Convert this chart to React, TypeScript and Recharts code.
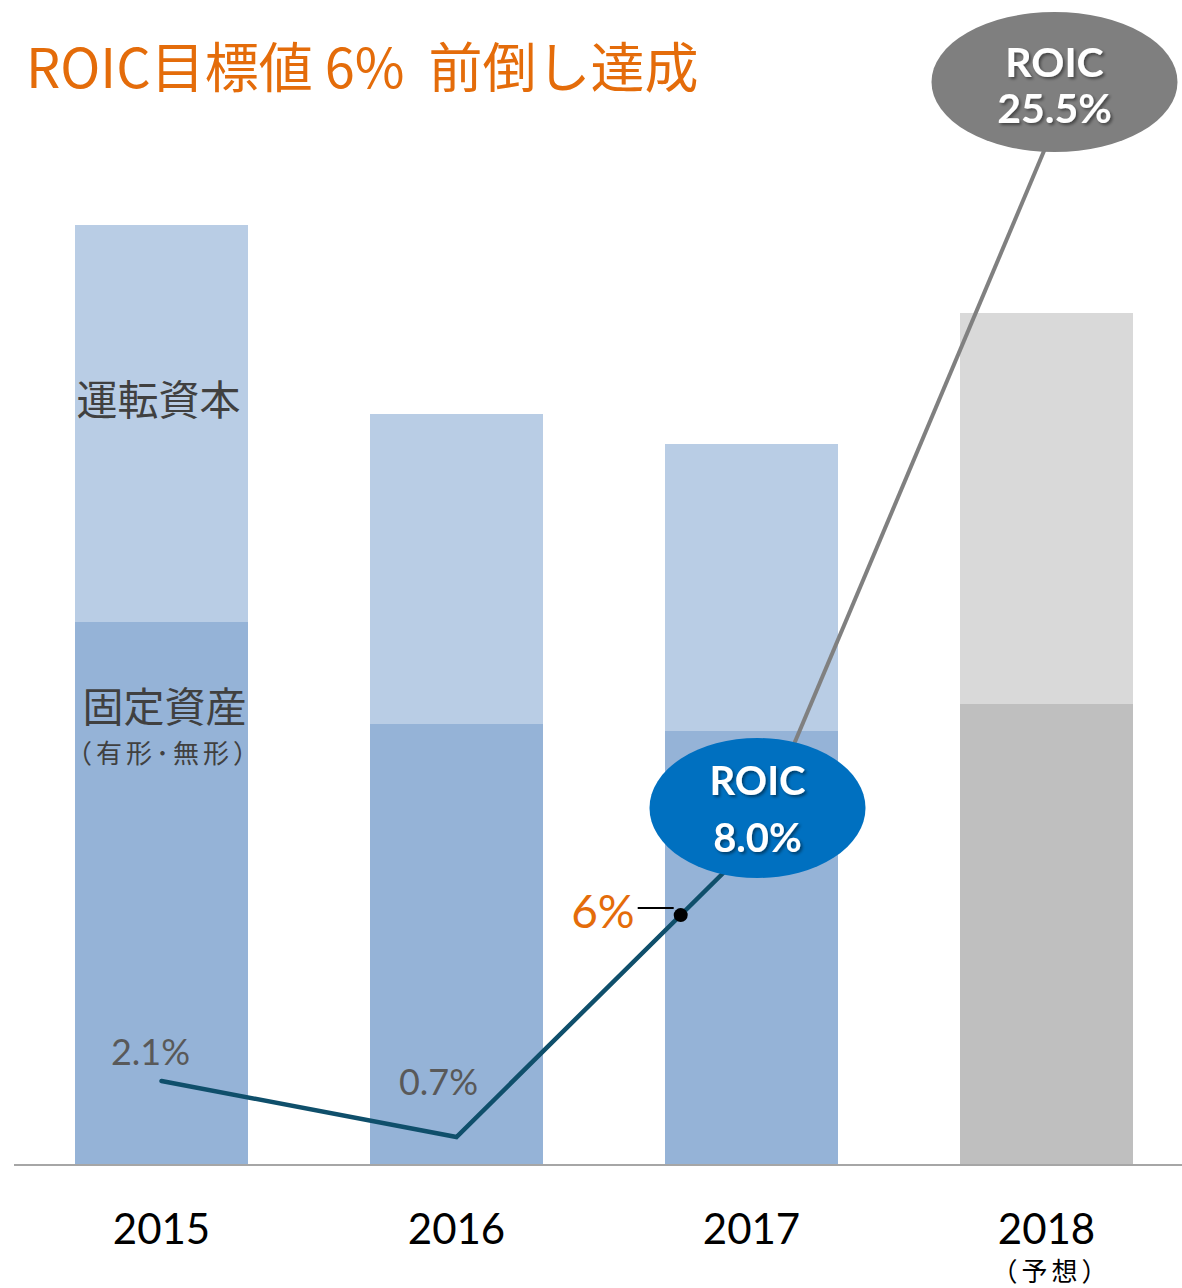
import React from 'react'
import { ComposedChart, Bar, Line, XAxis, YAxis, Cell, LabelList, ReferenceDot } from 'recharts'

const years = ['2015', '2016', '2017', '2018']
const fixedAssets = [54.3, 44.1, 43.4, 46.1]
const workingCapital = [39.7, 31.0, 28.7, 39.1]
const roic = [2.1, 0.7, 8.0, 25.5]
const isForecast = [false, false, false, true]
const targetLabel = '6%'
const targetPos = 1.76

const LATIN = 'Lato, "Noto Sans CJK JP", sans-serif'
const JP = '"Noto Sans CJK JP", sans-serif'

const data = years.map((year, i) => ({
  x: i,
  year,
  fixed: fixedAssets[i],
  working: workingCapital[i],
  roic: roic[i],
  actual: i <= 2 ? roic[i] : null,
  plan: i >= 2 ? roic[i] : null,
}))

// where the 6% marker sits on the 2016-2017 segment
const targetY = roic[1] + (roic[2] - roic[1]) * (targetPos - 1)

function YearTick({ x, y, payload }: any) {
  const i = payload.value
  return (
    <g>
      <text x={x} y={y + 77} textAnchor="middle" fontFamily={LATIN} fontSize={42} fill="#000">
        {years[i]}
      </text>
      {isForecast[i] && (
        <text x={x + 5} y={y + 114} textAnchor="middle" fontFamily={JP} fontSize={26} letterSpacing={4} fill="#000">
          （予想）
        </text>
      )}
    </g>
  )
}

function WorkingLabel({ x, y, width, index }: any) {
  if (index !== 0) return null
  return (
    <text x={x + width / 2 - 3} y={y + 190} textAnchor="middle" fontFamily={JP} fontSize={41} fill="#404040">
      運転資本
    </text>
  )
}

function FixedLabel({ x, y, width, index }: any) {
  if (index !== 0) return null
  const cx = x + width / 2 + 3
  return (
    <g>
      <text x={cx} y={y + 100} textAnchor="middle" fontFamily={JP} fontSize={41} fill="#404040">
        固定資産
      </text>
      <text x={cx} y={y + 141} textAnchor="middle" fontFamily={JP} fontSize={26} letterSpacing={4} fill="#404040">
        （有形･無形）
      </text>
    </g>
  )
}

function RoicLabel({ x, y, index, value }: any) {
  const txt = value.toFixed(1) + '%'
  if (index === 0 || index === 1) {
    const dx = index === 0 ? -11 : -18
    const dy = index === 0 ? -16 : -42
    return (
      <text x={x + dx} y={y + dy} textAnchor="middle" fontFamily={LATIN} fontSize={36} fill="#595959">
        {txt}
      </text>
    )
  }
  const big = index === 3
  const cx = x + (big ? 8 : 6)
  const cy = y + (big ? -63 : -37)
  return (
    <g>
      <defs>
        <filter id={'sh' + index} x="-20%" y="-20%" width="140%" height="140%">
          <feDropShadow dx="2" dy="2" stdDeviation="1.5" floodColor="#000" floodOpacity="0.45" />
        </filter>
      </defs>
      <ellipse cx={cx} cy={cy} rx={big ? 123 : 108} ry={70} fill={big ? '#7f7f7f' : '#0070c0'} />
      <g filter={`url(#sh${index})`} fontFamily={LATIN} fontWeight={700} fill="#fff" textAnchor="middle">
        <text x={cx} y={cy - (big ? 5 : 13)} fontSize={big ? 41 : 40}>ROIC</text>
        <text x={cx} y={cy + (big ? 41 : 44)} fontSize={big ? 41 : 40}>{txt}</text>
      </g>
    </g>
  )
}

function TargetMark({ viewBox }: any) {
  const cx = viewBox.x
  const cy = viewBox.y
  return (
    <g>
      <line x1={cx - 36} y1={cy} x2={cx} y2={cy} stroke="#000" strokeWidth={2} />
      <text x={cx - 39} y={cy + 20} textAnchor="end" fontFamily={LATIN} fontSize={46} fill="#e46c0a">
        {targetLabel}
      </text>
    </g>
  )
}

export default function App() {
  return (
    <div style={{ position: 'absolute', left: 0, top: 0, width: 1182, height: 1288, overflow: 'hidden', background: '#fff' }}>
      <ComposedChart width={1194} height={1288} data={data} margin={{ top: 145, right: 0, left: 14, bottom: 23 }}>
        <XAxis
          dataKey="x"
          type="number"
          domain={[-0.5, 3.5]}
          ticks={[0, 1, 2, 3]}
          height={100}
          tickLine={false}
          tickSize={0}
          tick={<YearTick />}
          axisLine={{ stroke: '#a6a6a6', strokeWidth: 2 }}
          interval={0}
        />
        <YAxis yAxisId="cap" domain={[0, 102]} hide />
        <YAxis yAxisId="roic" orientation="right" domain={[0, 25.5]} hide />
        <Bar dataKey="fixed" stackId="a" yAxisId="cap" barSize={173} fill="#95b3d7" isAnimationActive={false}>
          {data.map((d, i) => (
            <Cell key={d.year} fill={isForecast[i] ? '#bfbfbf' : '#95b3d7'} />
          ))}
          <LabelList content={<FixedLabel />} />
        </Bar>
        <Bar dataKey="working" stackId="a" yAxisId="cap" barSize={173} fill="#b9cde5" isAnimationActive={false}>
          {data.map((d, i) => (
            <Cell key={d.year} fill={isForecast[i] ? '#d9d9d9' : '#b9cde5'} />
          ))}
          <LabelList content={<WorkingLabel />} />
        </Bar>
        <Line dataKey="actual" yAxisId="roic" stroke="#0f4f6b" strokeWidth={4.5} strokeLinecap="round" dot={false} isAnimationActive={false} />
        <Line dataKey="plan" yAxisId="roic" stroke="#808080" strokeWidth={4} dot={false} isAnimationActive={false} />
        <ReferenceDot x={targetPos} y={targetY} yAxisId="roic" r={7} fill="#000" stroke="none" label={<TargetMark />} />
        <Line dataKey="roic" yAxisId="roic" stroke="none" dot={false} isAnimationActive={false}>
          <LabelList content={<RoicLabel />} />
        </Line>
      </ComposedChart>
      <svg width={1182} height={120} style={{ position: 'absolute', left: 0, top: 0 }}>
        <text x={26} y={88} fontFamily={JP} fontSize={54} fill="#e46c0a" xmlSpace="preserve" style={{ whiteSpace: 'pre' }}>
          {'ROIC目標値 6%  前倒し達成'}
        </text>
      </svg>
    </div>
  )
}
